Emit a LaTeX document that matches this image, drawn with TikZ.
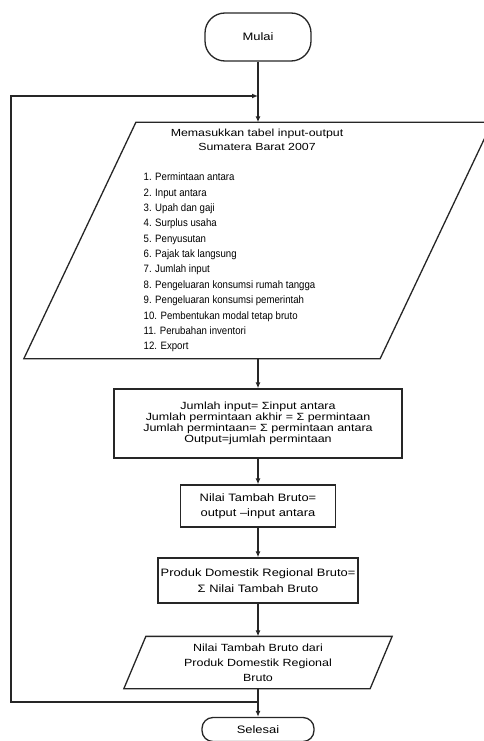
\documentclass[tikz,border=0pt]{standalone}
\usepackage{fontspec}
\setmainfont{Liberation Sans}
\newfontfamily\widesans{Liberation Sans}[FakeStretch=1.2,Ligatures=TeX]
\newfontfamily\narrowsans{Liberation Sans}[FakeStretch=0.9,Ligatures=TeX]
\usetikzlibrary{arrows.meta}
\begin{document}
\begin{tikzpicture}[x=1pt,y=-1pt,
  line width=1.3pt,
  every node/.style={inner sep=0pt},
  flow/.style={draw=black!85},
  arr/.style={flow,-{Latex[length=6pt,width=5pt]}},
  terminal/.style={flow,rectangle,rounded corners=20pt,minimum width=106pt,minimum height=48pt,
    font=\widesans\fontsize{10.8}{13}\selectfont},
  procbox/.style={flow,rectangle,align=center},
  iobody/.style={rectangle,align=center},
]
\useasboundingbox (0,0) rectangle (484,741);

% start / end
\node[terminal] (mulai) at (258,37) {Mulai};
\node[terminal,minimum width=112pt,minimum height=24pt,rounded corners=11pt] (selesai) at (258,729.5) {Selesai};

% data input (parallelogram drawn around the body of the node)
\node[iobody,minimum width=355pt,minimum height=235pt] (input) at (258,240.5) {};
\draw[flow] ([xshift=56pt]input.north west) -- ([xshift=56pt]input.north east)
  -- ([xshift=-56pt]input.south east) -- ([xshift=-56pt]input.south west) -- cycle;
\node[align=center,font=\widesans\fontsize{10.3}{14}\selectfont] (judul) at (257,140)
  {Memasukkan tabel input-output\\Sumatera Barat 2007};
\node[align=left,anchor=west,font=\narrowsans\fontsize{10.7}{15.36}\selectfont] (daftar) at (143,262.5)
  {1. Permintaan antara\\
   2. Input antara\\
   3. Upah dan gaji\\
   4. Surplus usaha\\
   5. Penyusutan\\
   6. Pajak tak langsung\\
   7. Jumlah input\\
   8. Pengeluaran konsumsi rumah tangga\\
   9. Pengeluaran konsumsi pemerintah\\
   10. Pembentukan modal tetap bruto\\
   11. Perubahan inventori\\
   12. Export};

% processing steps
\node[procbox,minimum width=288pt,minimum height=69pt,
  font=\widesans\fontsize{10.4}{10.8}\selectfont] (jumlah) at (258,423.5)
  {Jumlah input= Σinput antara\\
   Jumlah permintaan akhir = Σ permintaan\\
   Jumlah permintaan= Σ permintaan antara\\
   Output=jumlah permintaan};
\node[procbox,minimum width=155pt,minimum height=42pt,
  font=\widesans\fontsize{10.75}{15}\selectfont] (ntb) at (258,506)
  {Nilai Tambah Bruto=\\output –input antara};
\node[procbox,minimum width=200pt,minimum height=45pt,
  font=\widesans\fontsize{10.75}{16}\selectfont] (pdrb) at (258,580.5)
  {Produk Domestik Regional Bruto=\\Σ Nilai Tambah Bruto};

% output (parallelogram drawn around the body of the node)
\node[iobody,minimum width=245pt,minimum height=51pt,
  font=\widesans\fontsize{10.4}{15}\selectfont] (hasil) at (258,662.5)
  {Nilai Tambah Bruto dari\\Produk Domestik Regional\\Bruto};
\draw[flow] ([xshift=11pt]hasil.north west) -- ([xshift=11pt]hasil.north east)
  -- ([xshift=-11pt]hasil.south east) -- ([xshift=-11pt]hasil.south west) -- cycle;

% loop-back route
\coordinate (gabung) at (258,702);
\coordinate (kiribawah) at (11,702);
\coordinate (kiriatas) at (11,96);
\coordinate (masuk) at (258,96);

% connectors
\draw[arr] (mulai) -- (input);
\draw[arr] (input) -- (jumlah);
\draw[arr] (jumlah) -- (ntb);
\draw[arr] (ntb) -- (pdrb);
\draw[arr] (pdrb) -- (hasil);
\draw[arr] (hasil) -- (selesai);
\draw[arr] (gabung) -- (kiribawah) -- (kiriatas) -- (masuk);
\end{tikzpicture}
\end{document}
